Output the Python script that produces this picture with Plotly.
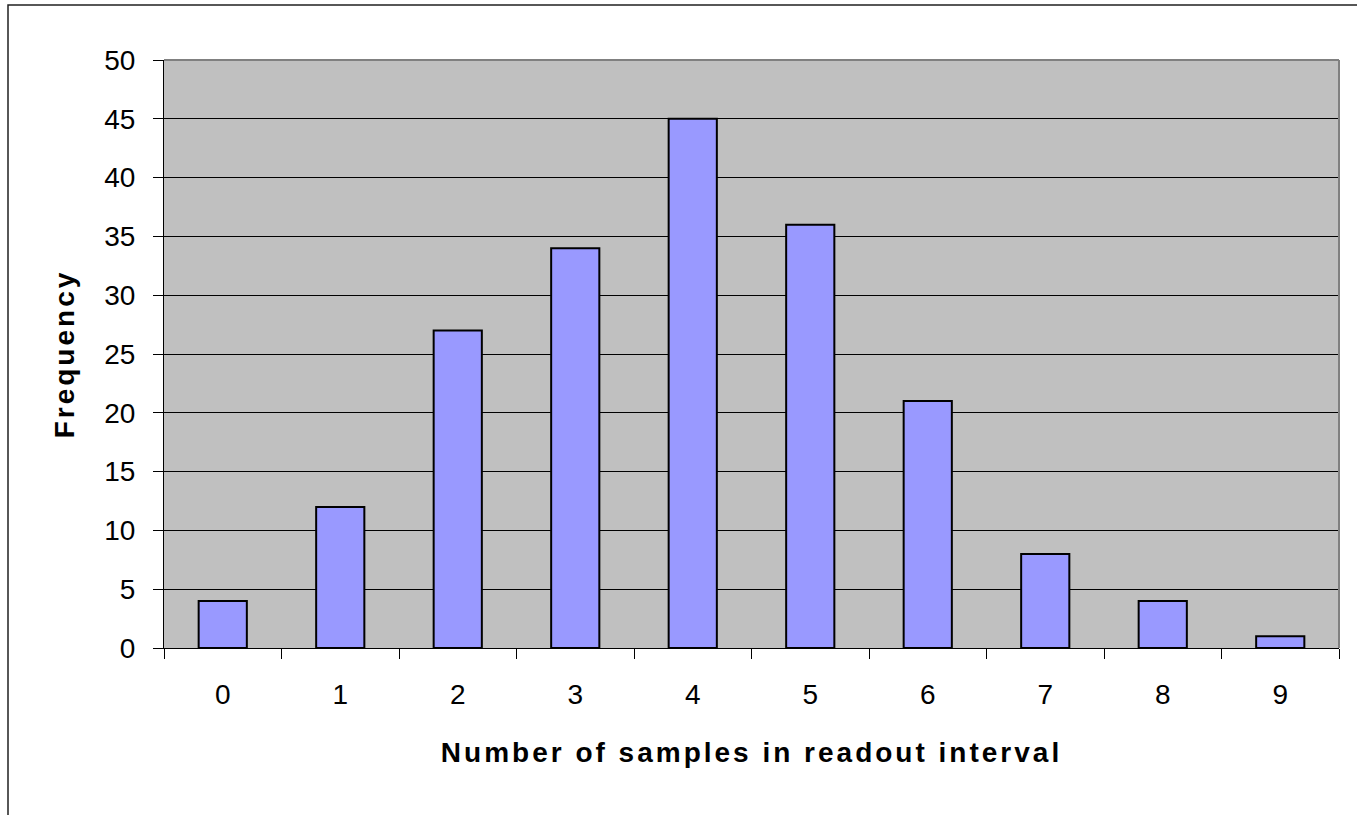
import plotly.graph_objects as go

categories = ["0", "1", "2", "3", "4", "5", "6", "7", "8", "9"]
frequency = [4, 12, 27, 34, 45, 36, 21, 8, 4, 1]
y_ticks = [0, 5, 10, 15, 20, 25, 30, 35, 40, 45, 50]

FONT = "Liberation Sans, Arial, sans-serif"

fig = go.Figure()
fig.add_trace(go.Bar(
    x=categories,
    y=frequency,
    width=0.41,
    marker=dict(color="#9999FF", line=dict(color="black", width=2)),
    showlegend=False,
))

fig.update_layout(
    width=1357,
    height=815,
    margin=dict(l=164, r=18, t=60, b=167, pad=0),
    paper_bgcolor="white",
    plot_bgcolor="#C0C0C0",
    font=dict(family=FONT, size=28, color="black"),
    bargap=0.59,
)

fig.update_xaxes(
    type="category",
    range=[-0.5, 9.5],
    showgrid=False,
    showline=True,
    linecolor="black",
    linewidth=1,
    ticks="outside",
    tickson="boundaries",
    ticklen=10,
    tickcolor="black",
    tickwidth=1,
    ticklabelstandoff=21,
    title=dict(text="Number of samples in readout interval",
               font=dict(family=FONT, size=28, weight="bold"), standoff=33),
)

fig.update_yaxes(
    range=[0, 50],
    tickvals=y_ticks,
    showgrid=True,
    gridcolor="black",
    gridwidth=1,
    zeroline=False,
    showline=True,
    linecolor="black",
    linewidth=1,
    ticks="outside",
    ticklen=10,
    tickcolor="black",
    tickwidth=1,
    ticklabelstandoff=12,
    title=dict(text="Frequency",
               font=dict(family=FONT, size=28, weight="bold"), standoff=21),
)

# gray plot-area frame on top and right
fig.add_shape(type="line", xref="paper", yref="paper", x0=0, x1=1, y0=1, y1=1,
              line=dict(color="#808080", width=2), layer="above")
fig.add_shape(type="line", xref="paper", yref="paper", x0=1, x1=1, y0=0, y1=1,
              line=dict(color="#808080", width=2), layer="above")
# outer chart border (top and left visible)
fig.add_shape(type="rect", xref="paper", yref="paper",
              x0=(8 - 164) / 1175, x1=2, y0=-2, y1=(648 - 5) / 588,
              line=dict(color="#202020", width=1.5), fillcolor="rgba(0,0,0,0)", layer="below")

post = """
document.body.style.margin = '0';
document.body.style.overflow = 'hidden';
var gd = document.getElementById('{plot_id}');
function sp(){ gd.querySelectorAll('.xtitle, .ytitle').forEach(function(e){ e.style.letterSpacing = '3px'; }); }
sp();
gd.on('plotly_afterplot', sp);
"""

fig.write_html("out.html", post_script=post, config={"displayModeBar": False})
